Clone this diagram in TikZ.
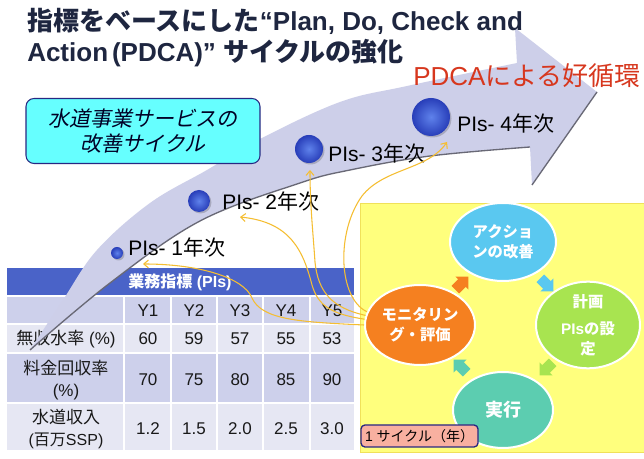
\documentclass[tikz,border=0pt]{standalone}
\usepackage{fontspec}
\setmainfont{Liberation Sans}
\newfontfamily\jp{Noto Sans CJK JP}
\newfontfamily\jpsl[FakeSlant=0.2]{Noto Sans CJK JP}
\usetikzlibrary{shapes.arrows,shapes.geometric,arrows.meta,calc}
\definecolor{titlec}{RGB}{30,38,64}
\definecolor{redc}{RGB}{215,55,30}
\definecolor{bandc}{RGB}{205,207,233}
\definecolor{bandline}{RGB}{105,105,118}
\definecolor{hdrc}{RGB}{74,99,200}
\definecolor{rowAc}{RGB}{205,208,235}
\definecolor{rowBc}{RGB}{230,231,243}
\definecolor{cyanbox}{RGB}{102,255,255}
\definecolor{navyc}{RGB}{40,40,130}
\definecolor{panelc}{RGB}{255,255,125}
\definecolor{panelline}{RGB}{240,225,90}
\definecolor{actc}{RGB}{90,200,240}
\definecolor{planc}{RGB}{168,228,80}
\definecolor{doc}{RGB}{92,205,176}
\definecolor{monc}{RGB}{245,128,32}
\definecolor{curvec}{RGB}{245,190,50}
\definecolor{salmonc}{RGB}{248,176,160}
\definecolor{ballin}{RGB}{95,130,235}
\definecolor{ballout}{RGB}{40,62,185}
\begin{document}
\begin{tikzpicture}[x=0.75pt,y=-0.75pt,
  titletext/.style={anchor=base west,inner sep=0pt,text=titlec,font=\fontsize{19.5pt}{23pt}\selectfont\bfseries},
  pilabel/.style={anchor=base west,inner sep=0pt,font=\fontsize{15.75pt}{18pt}\selectfont},
  sphere/.style={circle,inner sep=0pt,shading=radial,inner color=ballin,outer color=ballout},
  cell/.style={inner sep=0pt,align=center,text=black!90,font=\fontsize{12.75pt}{15.5pt}\selectfont},
  cycell/.style={ellipse,draw=white,line width=1.5pt,inner sep=0pt,text=white,align=center,font=\fontsize{11.5pt}{15pt}\selectfont\bfseries},
  blockarrow/.style={single arrow,inner sep=3.8pt,minimum height=14pt,single arrow head extend=3pt,draw=none},
  link/.style={draw=curvec,line width=0.8pt,-{Straight Barb[length=3.5pt,width=6pt]}}
]
\useasboundingbox (0,0) rectangle (644,459);
\fill[white] (0,0) rectangle (644,459);

% ---------- table ----------
\fill[hdrc] (7,268) rectangle (354,295);
\fill[rowAc] (7,297) rectangle (354,323);
\fill[rowBc] (7,325) rectangle (354,352);
\fill[rowAc] (7,354) rectangle (354,402);
\fill[rowBc] (7,404) rectangle (354,450);
\foreach \x in {124,171,217,263,310} \draw[white,line width=1.5pt] (\x,296) -- (\x,451);
\node[cell,text=white,font=\fontsize{12pt}{14pt}\selectfont\bfseries] (hdr) at (180,282) {{\jp\bfseries 業務指標} (PIs)};
\node[cell] (y1) at (148,311) {Y1};
\node[cell] (y2) at (194,311) {Y2};
\node[cell] (y3) at (240,311) {Y3};
\node[cell] (y4) at (286,311) {Y4};
\node[cell] (y5) at (332,311) {Y5};
\node[cell] (ra) at (66,339) {{\jp 無収水率} (\%)};
\node[cell] (a1) at (148,339) {60};
\node[cell] (a2) at (194,339) {59};
\node[cell] (a3) at (240,339) {57};
\node[cell] (a4) at (286,339) {55};
\node[cell] (a5) at (332,339) {53};
\node[cell] (rb) at (66,380) {{\jp 料金回収率}\\[1pt](\%)};
\node[cell] (b1) at (148,380) {70};
\node[cell] (b2) at (194,380) {75};
\node[cell] (b3) at (240,380) {80};
\node[cell] (b4) at (286,380) {85};
\node[cell] (b5) at (332,380) {90};
\node[cell] (rc) at (66,429) {{\jp 水道収入}\\[1pt]{\fontsize{12pt}{14pt}\selectfont({\jp 百万}SSP)}};
\node[cell] (c1) at (148,429) {1.2};
\node[cell] (c2) at (194,429) {1.5};
\node[cell] (c3) at (240,429) {2.0};
\node[cell] (c4) at (286,429) {2.5};
\node[cell] (c5) at (332,429) {3.0};

% ---------- big curved arrow ----------
\fill[bandc] plot[smooth,tension=0.6] coordinates {(30,350) (63,300) (97,250) (150,203) (207,170) (260,139) (340,102) (407,86) (517,63)}
  -- (515,28) -- (597,92) -- (532,185) -- (530,147)
  -- plot[smooth,tension=0.6] coordinates {(530,147) (430,156) (350,170) (300,183) (200,221) (110,283) (30,350)} -- cycle;
\draw[bandline,line width=1pt] plot[smooth,tension=0.6] coordinates {(530,147) (430,156) (350,170) (300,183) (200,221) (110,283) (30,350)};
\draw[bandline,line width=1pt] (597,92) -- (532,185);

% ---------- spheres & labels ----------
\foreach \p/\r in {{117,253}/9,{199,201}/16.5,{309,149}/21,{431,117}/28.5}
  \fill[black,opacity=0.18] ($(\p)+(1.5,1.5)$) circle[radius=\r*0.5pt];
\node[sphere,minimum size=9pt] (s1) at (117,253) {};
\node[sphere,minimum size=16.5pt] (s2) at (199,201) {};
\node[sphere,minimum size=21pt] (s3) at (309,149) {};
\node[sphere,minimum size=28.5pt] (s4) at (431,117) {};
\node[pilabel] (l1) at (128,256) {PIs- 1{\jp 年次}};
\node[pilabel] (l2) at (222,210) {PIs- 2{\jp 年次}};
\node[pilabel] (l3) at (328,162) {PIs- 3{\jp 年次}};
\node[pilabel] (l4) at (457,132) {PIs- 4{\jp 年次}};

% ---------- cyan box ----------
\node[draw=navyc,line width=0.8pt,fill=cyanbox,rounded corners=6pt,minimum width=175.5pt,minimum height=48.75pt,
  align=center,text=black!85!blue,font=\fontsize{15.75pt}{18.75pt}\selectfont\jpsl] (box) at (143,131)
  {水道事業サービスの\\改善サイクル};

% ---------- titles ----------
\node[titletext] (tt1) at (27,31) {{\jp\bfseries 指標をベースにした}“Plan, Do, Check and};
\node[titletext] (tt2) at (27,62) {Action\hspace{0.15em}(PDCA)” {\jp\bfseries サイクルの強化}};
\node[anchor=base west,inner sep=0pt,text=redc,font=\fontsize{19.5pt}{22pt}\selectfont] (pdca) at (413,86) {PDCA{\jp による好循環}};

% ---------- PDCA panel ----------
\fill[panelc] (360,203) rectangle (644,452);
\draw[panelline,line width=0.6pt] (360,203) rectangle (644,452);
\node[cycell,fill=actc,minimum width=79.5pt,minimum height=58.5pt] (act) at (503,242) {\jp\bfseries アクショ\\\jp\bfseries ンの改善};
\node[cycell,fill=planc,minimum width=78pt,minimum height=51.75pt] (plan) at (588,325) {\jp\bfseries 計画\\[5pt]PIs{\jp\bfseries の設}\\\jp\bfseries 定};
\node[cycell,fill=doc,minimum width=75pt,minimum height=57pt,font=\fontsize{13.5pt}{15pt}\selectfont\bfseries] (do) at (503,410) {\jp\bfseries 実行};
\node[cycell,fill=monc,minimum width=82.5pt,minimum height=60pt] (mon) at (420,325) {\jp\bfseries モニタリン\\\jp\bfseries グ・評価};
\node[blockarrow,fill=monc,rotate=45] (ar1) at (460,285) {};
\node[blockarrow,fill=actc,rotate=-45] (ar2) at (545,283) {};
\node[blockarrow,fill=planc,rotate=-135] (ar3) at (548,367) {};
\node[blockarrow,fill=doc,rotate=135] (ar4) at (462,368) {};
\node[draw=navyc,line width=1pt,fill=salmonc,rounded corners=3pt,minimum width=87.75pt,minimum height=16.5pt,inner sep=0pt,
  font=\fontsize{10.5pt}{12pt}\selectfont] (cyc) at (419.5,436) {1 {\jp サイクル（年）}};

% ---------- connectors ----------
\coordinate (t1) at (143,264);
\coordinate (t2) at (240,217);
\coordinate (t3) at (310,170);
\coordinate (t4) at (447,142);
\draw[link] (mon.west) .. controls (300,322) and (262,320) .. (252,298) .. controls (244,278) and (200,264) .. (t1);
\draw[link] (mon.174) .. controls (330,314) and (318,305) .. (312,285) .. controls (303,250) and (290,222) .. (t2);
\draw[link] (mon.170) .. controls (332,308) and (318,292) .. (315,262) .. controls (313,232) and (310,205) .. (t3);
\draw[link] (mon.166) .. controls (338,298) and (336,232) .. (362,196) .. controls (384,168) and (428,170) .. (t4);
\end{tikzpicture}
\end{document}
